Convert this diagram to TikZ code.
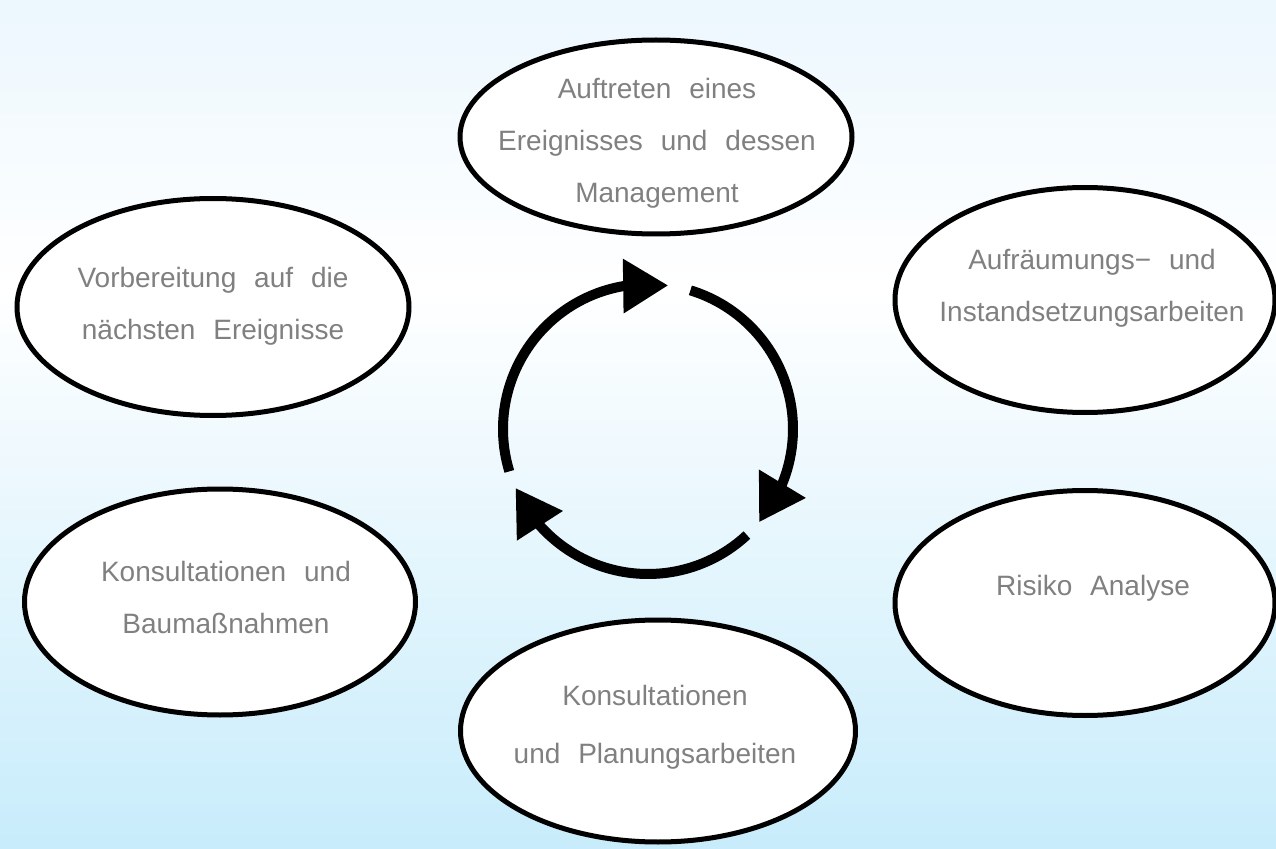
\documentclass[tikz,border=0pt]{standalone}
\usepackage{fontspec}
\setmainfont[WordSpace=2.3]{Liberation Sans}
\usetikzlibrary{shapes.geometric, arrows.meta, bending}

\definecolor{textgray}{RGB}{128,128,128}
\definecolor{bgtop}{RGB}{236,247,254}
\definecolor{bgbottom}{RGB}{200,236,251}

\tikzset{
  bubble/.style={draw, ellipse, line width=2.5pt, fill=white, inner sep=0pt}, % Ellipse
  bubble text/.style={text=textgray, align=center, font=\fontsize{14}{26}\selectfont}, % Beschriftung
  turn/.style={line width=5pt, -{Triangle[length=22.5pt, width=26pt]}} % Kreislauf
}

\begin{document}
\begin{tikzpicture}[x=0.5pt, y=0.5pt]
    \useasboundingbox (0,0) rectangle (1276,848);
    \clip (0,0) rectangle (1276,848);
    \shade[top color=bgtop, bottom color=white] (0,848) rectangle (1276,560);
    \shade[top color=white, bottom color=bgbottom] (0,560) rectangle (1276,0);

    \node[bubble, minimum width=196pt, minimum height=97pt] (event) at (656,711) {};
    \node[bubble, minimum width=190pt, minimum height=112.5pt] (repair) at (1085,548) {};
    \node[bubble, minimum width=196pt, minimum height=108.5pt] (prepare) at (213,541) {};
    \node[bubble, minimum width=195.5pt, minimum height=113pt] (build) at (220,246) {};
    \node[bubble, minimum width=190pt, minimum height=112.5pt] (risk) at (1085,245) {};
    \node[bubble, minimum width=197.5pt, minimum height=111pt] (plan) at (658,117) {};

    \node[bubble text] (event text) at (657,705) {Auftreten eines\\Ereignisses und dessen\\Management};
    \node[bubble text] (repair text) at (1092,560) {Aufräumungs− und\\Instandsetzungsarbeiten};
    \node[bubble text] (prepare text) at (213,542) {Vorbereitung auf die\\nächsten Ereignisse};
    \node[bubble text] (build text) at (226,251) {Konsultationen und\\Baumaßnahmen};
    \node[bubble text] (risk text) at (1093,260) {Risiko Analyse};
    \node[bubble text, font=\fontsize{14}{29}\selectfont] (plan text) at (655,121) {Konsultationen\\und Planungsarbeiten};

    \coordinate (hub) at (648,419);
    \foreach \from/\to in {197/82, 73/-40, -47/-156} {
      \draw[turn] ([shift={(\from:145)}]hub) arc[start angle=\from, end angle=\to, radius=145];
    }
\end{tikzpicture}
\end{document}
